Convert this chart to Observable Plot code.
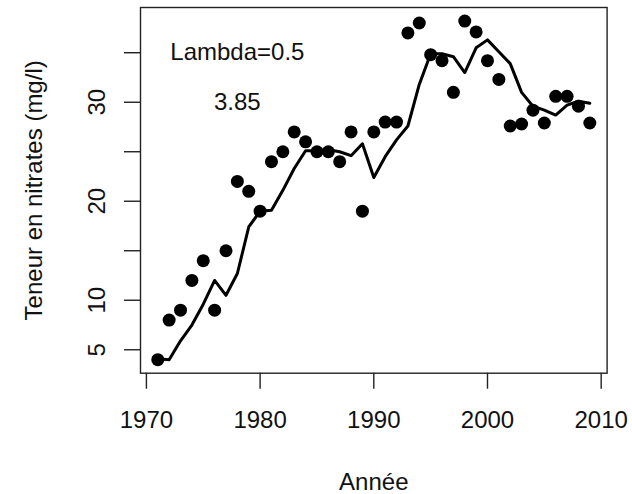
<!DOCTYPE html>
<html>
<head>
<meta charset="utf-8">
<script src="https://cdn.jsdelivr.net/npm/d3@7"></script>
<script src="https://cdn.jsdelivr.net/npm/@observablehq/plot@0.6"></script>
<style>
  html, body { margin: 0; padding: 0; background: #fff; }
</style>
</head>
<body>
<div id="chart"></div>
<script>
// Years of observation
const years = [1971,1972,1973,1974,1975,1976,1977,1978,1979,1980,
               1981,1982,1983,1984,1985,1986,1987,1988,1989,1990,
               1991,1992,1993,1994,1995,1996,1997,1998,1999,2000,
               2001,2002,2003,2004,2005,2006,2007,2008,2009];
// Observed nitrate concentration (mg/l)
const observed = [4.0,8.0,9.0,12.0,14.0,9.0,15.0,22.0,21.0,19.0,
                  24.0,25.0,27.0,26.0,25.0,25.0,24.0,27.0,19.0,27.0,
                  28.0,28.0,37.0,38.0,34.8,34.2,31.0,38.2,37.1,34.2,
                  32.3,27.6,27.8,29.2,27.9,30.6,30.6,29.6,27.9];
// Smoothed series (Lambda = 0.5)
const smoothed = [4.1,4.0,5.9,7.5,9.6,12.0,10.5,12.7,17.4,19.0,
                  19.1,21.1,23.3,25.1,25.1,25.2,25.0,24.6,25.8,22.4,
                  24.5,26.2,27.6,31.8,34.9,34.9,34.6,33.0,35.5,36.3,
                  35.1,33.9,31.0,29.6,29.2,28.7,29.7,30.1,29.9];
// Axis ticks and labels
const xTicks = [1970,1980,1990,2000,2010];
const yTicks = [5,10,15,20,25,30,35];
const yLabels = [5,10,20,30];
// Annotations
const annotText = ["Lambda=0.5","3.85"];
const annotX = [1978,1978];
const annotY = [35,30];
const xTitle = "Année";
const yTitle = "Teneur en nitrates (mg/l)";

const rows = years.map((yr, i) => ({year: yr, obs: observed[i], fit: smoothed[i]}));
const notes = annotText.map((t, i) => ({t, x: annotX[i], y: annotY[i]}));

const FONT = "'Liberation Sans', Arial, Helvetica, sans-serif";

const chart = Plot.plot({
  width: 632,
  height: 494,
  marginLeft: 140,
  marginRight: 25.4,
  marginTop: 7,
  marginBottom: 121.3,
  style: {fontFamily: FONT, fontSize: "24px", color: "#000", background: "#fff"},
  x: {domain: [1969.48, 2010.52]},
  y: {domain: [2.632, 39.568]},
  marks: [
    Plot.frame({stroke: "#222", strokeWidth: 1.4}),
    Plot.axisX({ticks: xTicks, tickSize: 16, tickPadding: 22, tickFormat: d => String(d),
                label: null, fontSize: 24, strokeWidth: 1.4, stroke: "#222", fill: "#111"}),
    Plot.axisY({ticks: yTicks, tickSize: 16, tickFormat: () => "", label: null,
                strokeWidth: 1.4, stroke: "#222"}),
    Plot.text(yLabels, {y: d => d, text: d => String(d), frameAnchor: "left", dx: -43,
                        rotate: -90, textAnchor: "middle", lineAnchor: "middle",
                        fontSize: 24, fill: "#111"}),
    Plot.line(rows, {x: "year", y: "fit", stroke: "#000", strokeWidth: 3}),
    Plot.dot(rows, {x: "year", y: "obs", r: 6.5, fill: "#000", stroke: null}),
    Plot.text(notes, {x: "x", y: "y", text: "t", textAnchor: "middle", lineAnchor: "middle",
                      fontSize: 24, fill: "#111"}),
    Plot.text([xTitle], {text: d => d, frameAnchor: "bottom", dy: 109, textAnchor: "middle",
                         lineAnchor: "middle", fontSize: 24, fill: "#111"}),
    Plot.text([yTitle], {text: d => d, frameAnchor: "left", dx: -106, rotate: -90,
                         textAnchor: "middle", lineAnchor: "middle", fontSize: 24, fill: "#111"})
  ]
});
document.getElementById("chart").appendChild(chart);
</script>
</body>
</html>
